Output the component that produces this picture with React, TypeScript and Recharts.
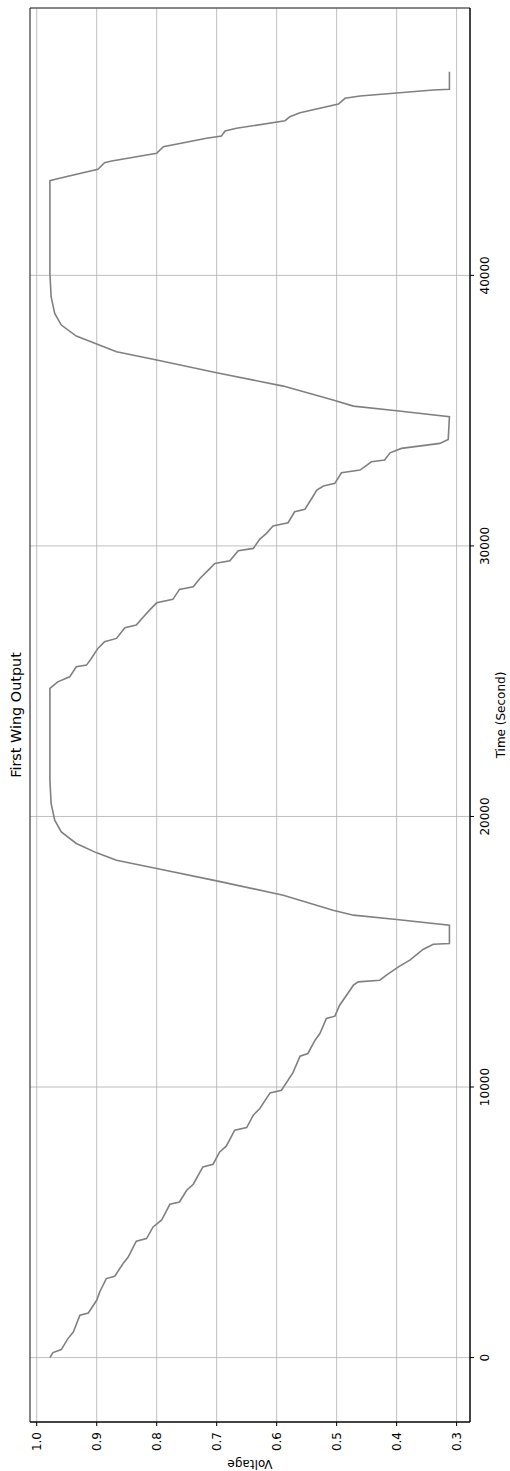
import { LineChart, Line, XAxis, YAxis, CartesianGrid, ReferenceArea } from 'recharts';

// sampled wing output: time in seconds, voltage
const timeSec = [
  0, 185, 296, 702, 946, 1564, 1649, 2118, 2425, 2921,
  3006, 3475, 3697, 4300, 4399, 4828, 5076, 5667, 5752, 6185,
  6407, 7046, 7146, 7601, 7812, 8403, 8503, 8958, 9205, 9782,
  9882, 10521, 11139, 11239, 11730, 11978, 12532, 12618, 13024, 13764,
  13886, 13948, 14133, 14440, 14688, 15083, 15279, 15305, 15982,
  16193, 16352, 16537, 17091, 17620, 18078, 18385, 18655, 19002, 19431,
  19864, 20481, 21342, 24732,
  24977, 25161, 25531, 25594, 25841, 26211, 26455, 26581, 26973, 27073,
  27357, 27627, 27897, 28023, 28392, 28489, 28799, 29106, 29353, 29450,
  29819, 29908, 30252, 30463, 30733, 30855, 31262, 31350, 31631, 32064,
  32212, 32312, 32703, 32803, 33110, 33172, 33442, 33605, 33790, 33938,
  34773,
  34995, 35168, 35390, 35907, 36399, 36869, 37176, 37460, 37756, 38163,
  38596, 39210, 40075, 43498,
  43587, 43920, 44164, 44226, 44511, 44755, 45065, 45150, 45335, 45435,
  45716, 45864, 46012, 46333, 46544, 46629, 46851, 46876, 47527,
];

const voltage = [
  0.978, 0.973, 0.959, 0.948, 0.939, 0.928, 0.914, 0.900, 0.895, 0.884,
  0.870, 0.856, 0.848, 0.834, 0.817, 0.806, 0.792, 0.778, 0.762, 0.750,
  0.739, 0.723, 0.706, 0.695, 0.684, 0.670, 0.650, 0.639, 0.628, 0.611,
  0.592, 0.573, 0.561, 0.548, 0.536, 0.528, 0.517, 0.503, 0.495, 0.472,
  0.464, 0.428, 0.417, 0.397, 0.378, 0.356, 0.339, 0.312, 0.312,
  0.400, 0.472, 0.506, 0.589, 0.700, 0.800, 0.867, 0.900, 0.934, 0.959,
  0.970, 0.976, 0.978, 0.978,
  0.965, 0.945, 0.934, 0.917, 0.909, 0.898, 0.887, 0.867, 0.853, 0.834,
  0.823, 0.812, 0.800, 0.773, 0.762, 0.739, 0.728, 0.714, 0.703, 0.678,
  0.664, 0.639, 0.628, 0.617, 0.606, 0.581, 0.570, 0.553, 0.545, 0.533,
  0.522, 0.503, 0.492, 0.461, 0.442, 0.420, 0.411, 0.392, 0.328, 0.314,
  0.312,
  0.400, 0.472, 0.506, 0.589, 0.700, 0.800, 0.867, 0.900, 0.934, 0.959,
  0.970, 0.976, 0.978, 0.978,
  0.962, 0.898, 0.887, 0.875, 0.800, 0.789, 0.717, 0.692, 0.686, 0.667,
  0.586, 0.578, 0.561, 0.497, 0.486, 0.461, 0.339, 0.312, 0.312,
];

const timeTicks = [0, 10000, 20000, 30000, 40000];
const voltTicks = [0.3, 0.4, 0.5, 0.6, 0.7, 0.8, 0.9, 1.0];
const timeDomain: [number, number] = [-2381, 49882];
const voltDomain: [number, number] = [0.2777, 1.0112];

const W = 1471;
const H = 510;
const FONT = '"DejaVu Sans", sans-serif';

const data = timeSec.map((t, i) => ({ t, v: voltage[i] }));

const tickStyle = { fill: '#000', fontSize: 12, fontFamily: FONT };

// y-axis title, rotated and centred on the plot height
const voltageLabel = (props: any) => {
  const vb = props.viewBox;
  const cy = vb.y + vb.height / 2;
  return (
    <text x={11.5} y={cy} transform={`rotate(-90, 11.5, ${cy})`} textAnchor="middle"
          fontSize={12} fontFamily={FONT} fill="#000">Voltage</text>
  );
};

export default function App() {
  // chart is laid out landscape and turned a quarter turn counter-clockwise
  return (
    <div style={{ position: 'absolute', left: 0, top: 0, width: H, height: W, overflow: 'hidden', background: '#fff' }}>
      <div style={{ position: 'absolute', left: 0, top: 0, width: W, height: H,
                    transformOrigin: '0 0', transform: `translateY(${W}px) rotate(-90deg)` }}>
        <LineChart width={W} height={H} data={data} margin={{ top: 30, right: 8, bottom: 0, left: 0 }}
                   style={{ fontFamily: FONT }}>
          <CartesianGrid stroke="#b0b0b0" strokeWidth={0.8} />
          <XAxis dataKey="t" type="number" domain={timeDomain} ticks={timeTicks} allowDataOverflow
                 height={40} tickSize={4} tickMargin={6} stroke="#000" tick={tickStyle}
                 label={{ value: 'Time (Second)', position: 'insideBottom', offset: 5,
                          fontSize: 12, fontFamily: FONT, fill: '#000' }} />
          <YAxis type="number" domain={voltDomain} ticks={voltTicks} allowDataOverflow
                 width={49} tickSize={4} tickMargin={6} stroke="#000" tick={tickStyle}
                 tickFormatter={(v: number) => v.toFixed(1)} label={voltageLabel} />
          <ReferenceArea x1={timeDomain[0]} x2={timeDomain[1]} y1={voltDomain[0]} y2={voltDomain[1]}
                         fill="none" stroke="#000" strokeWidth={0.8} fillOpacity={0}
                         label={{ value: 'First Wing Output', position: 'top', offset: 9,
                                  fontSize: 14.4, fontFamily: FONT, fill: '#000' }} />
          <Line type="linear" dataKey="v" stroke="#808080" strokeWidth={1.6} dot={false}
                isAnimationActive={false} />
        </LineChart>
      </div>
    </div>
  );
}
